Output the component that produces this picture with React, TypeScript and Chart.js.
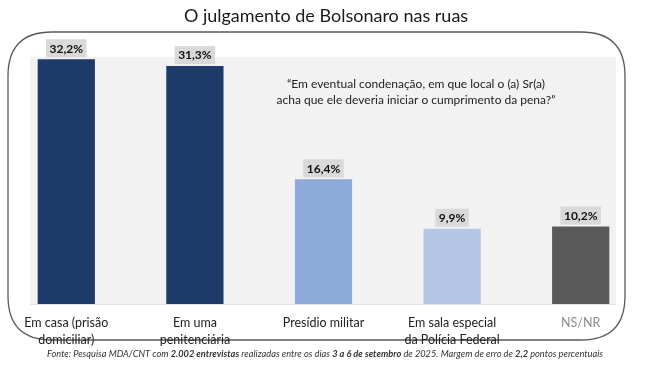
import React, { useEffect, useRef } from "react";
import { Chart, registerables } from "chart.js";

Chart.register(...registerables);

const TITLE = "O julgamento de Bolsonaro nas ruas";
const QUESTION = [
  "“Em eventual condenação, em que local o (a) Sr(a)",
  "acha que ele deveria iniciar o cumprimento da pena?”",
];
const categories = [
  ["Em casa (prisão", "domiciliar)"],
  ["Em uma", "penitenciária"],
  ["Presídio militar"],
  ["Em sala especial", "da Polícia Federal"],
  ["NS/NR"],
];
const values = [32.2, 31.3, 16.4, 9.9, 10.2];
const valueLabels = ["32,2%", "31,3%", "16,4%", "9,9%", "10,2%"];
const barColors = ["#1d3a68", "#1d3a68", "#8eaadb", "#b4c7e7", "#595959"];
const categoryColors = ["#222222", "#222222", "#222222", "#222222", "#8c8c8c"];
const footerParts = [
  { text: "Fonte: Pesquisa MDA/CNT com ", bold: false },
  { text: "2.002 entrevistas", bold: true },
  { text: " realizadas entre os dias ", bold: false },
  { text: "3 a 6 de setembro", bold: true },
  { text: " de 2025. Margem de erro de ", bold: false },
  { text: "2,2", bold: true },
  { text: " pontos percentuais", bold: false },
];

const FONT = "Lato, 'Open Sans', sans-serif";

function roundRect(ctx: CanvasRenderingContext2D, x: number, y: number, w: number, h: number, r: number) {
  ctx.beginPath();
  ctx.moveTo(x + r, y);
  ctx.lineTo(x + w - r, y);
  ctx.quadraticCurveTo(x + w, y, x + w, y + r);
  ctx.lineTo(x + w, y + h - r);
  ctx.quadraticCurveTo(x + w, y + h, x + w - r, y + h);
  ctx.lineTo(x + r, y + h);
  ctx.quadraticCurveTo(x, y + h, x, y + h - r);
  ctx.lineTo(x, y + r);
  ctx.quadraticCurveTo(x, y, x + r, y);
  ctx.closePath();
}

const decorPlugin = {
  id: "decor",
  beforeDatasetsDraw(chart: any) {
    const { ctx, chartArea } = chart;
    const a = chartArea;
    ctx.save();
    ctx.fillStyle = "#f2f2f2";
    ctx.fillRect(a.left + 28, a.top, a.right - 29 - (a.left + 28), a.bottom - a.top);
    ctx.strokeStyle = "#e2e2e2";
    ctx.lineWidth = 1;
    ctx.beginPath();
    ctx.moveTo(a.left + 28, a.bottom + 0.5);
    ctx.lineTo(a.right - 29, a.bottom + 0.5);
    ctx.stroke();
    const fx = a.left + 6;
    const fy = a.top - 25;
    const fw = a.right - 20 - fx;
    const fh = a.bottom + 36 - fy;
    ctx.strokeStyle = "#5a5a5a";
    ctx.lineWidth = 1.3;
    roundRect(ctx, fx, fy, fw, fh, 44);
    ctx.stroke();
    ctx.restore();
  },
  afterDatasetsDraw(chart: any) {
    const { ctx, chartArea } = chart;
    const a = chartArea;
    const meta = chart.getDatasetMeta(0);
    ctx.save();
    ctx.font = `bold 12px ${FONT}`;
    ctx.textAlign = "center";
    ctx.textBaseline = "middle";
    meta.data.forEach((bar: any, i: number) => {
      const t = valueLabels[i];
      const w = ctx.measureText(t).width + 7;
      const h = 18;
      const bottom = bar.y - 2;
      ctx.fillStyle = "#d9d9d9";
      ctx.fillRect(bar.x - w / 2, bottom - h, w, h);
      ctx.fillStyle = "#111111";
      ctx.fillText(t, bar.x, bottom - h / 2 + 0.5);
    });
    ctx.font = `12.5px ${FONT}`;
    meta.data.forEach((bar: any, i: number) => {
      ctx.fillStyle = categoryColors[i];
      categories[i].forEach((line, j) => {
        ctx.fillText(line, bar.x, a.bottom + 19 + j * 17);
      });
    });
    ctx.fillStyle = "#222222";
    ctx.font = `12px ${FONT}`;
    QUESTION.forEach((line, j) => {
      ctx.fillText(line, a.left + 414, a.top + 27 + j * 16);
    });
    ctx.font = `18px ${FONT}`;
    ctx.fillStyle = "#1a1a1a";
    ctx.fillText(TITLE, chart.width / 2 + 1, 16);
    const fs = 9;
    let total = 0;
    const widths = footerParts.map((p) => {
      ctx.font = `italic ${p.bold ? "bold " : ""}${fs}px ${FONT}`;
      const w = ctx.measureText(p.text).width;
      total += w;
      return w;
    });
    const target = 556;
    const sx = target / total;
    ctx.translate(chart.width / 2 - target / 2, 354);
    ctx.scale(sx, 1);
    ctx.textAlign = "left";
    ctx.fillStyle = "#333333";
    let x = 0;
    footerParts.forEach((p, i) => {
      ctx.font = `italic ${p.bold ? "bold " : ""}${fs}px ${FONT}`;
      ctx.fillText(p.text, x, 0);
      x += widths[i];
    });
    ctx.restore();
  },
};

export default function App() {
  const ref = useRef<HTMLCanvasElement | null>(null);
  useEffect(() => {
    if (!ref.current) return;
    const chart = new Chart(ref.current, {
      type: "bar",
      data: {
        labels: categories.map((c) => c.join(" ")),
        datasets: [
          {
            data: values,
            backgroundColor: barColors,
            borderWidth: 0,
            categoryPercentage: 1,
            barPercentage: 0.445,
          },
        ],
      },
      options: {
        animation: false,
        responsive: false,
        devicePixelRatio: 1,
        layout: { padding: { left: 2, right: 5, top: 57, bottom: 61 } },
        scales: {
          x: { display: false },
          y: { display: false, min: 0, max: 32.5 },
        },
        plugins: {
          legend: { display: false },
          tooltip: { enabled: false },
          title: { display: false },
        },
      },
      plugins: [decorPlugin],
    });
    return () => chart.destroy();
  }, []);
  return (
    <div style={{ position: "fixed", left: 0, top: 0, width: 650, height: 365, background: "#ffffff" }}>
      <canvas ref={ref} width={650} height={365} style={{ width: 650, height: 365, display: "block" }} />
    </div>
  );
}
